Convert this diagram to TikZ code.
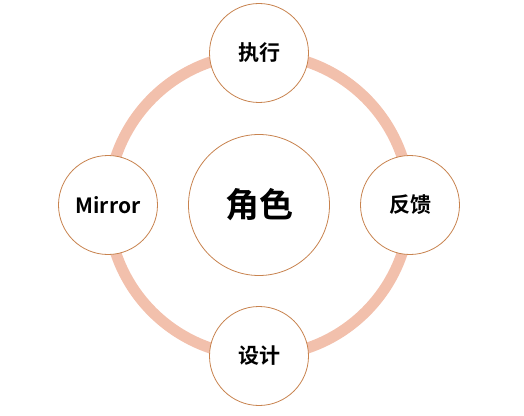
\documentclass[tikz,border=0pt]{standalone}
\usepackage{fontspec}
\newfontfamily\cjk{Noto Sans CJK SC Bold}
\definecolor{ringc}{HTML}{F2C0AC}
\definecolor{edgec}{HTML}{C8834F}
\begin{document}
\begin{tikzpicture}[x=1pt,y=1pt]
\tikzstyle{every node}=[circle, inner sep=0pt, draw=edgec, line width=0.8pt, fill=white, font=\cjk]
\tikzstyle{part}=[minimum size=99pt, font=\cjk\fontsize{21}{24}\selectfont]
\tikzstyle{hub}=[minimum size=141pt, font=\cjk\fontsize{34}{38}\selectfont]
\useasboundingbox (-259,-210) rectangle (265,205);
\draw[ringc, line width=11pt] (0,0) circle (151);
\draw (0,0) node (role) [hub] {角色};
\draw (90:152) node (exec) [part] {执行};
\draw (0:151) node (feed) [part] {反馈};
\draw (270:151) node (design) [part] {设计};
\draw (180:151) node (mirror) [part] {Mirror};
\end{tikzpicture}
\end{document}
